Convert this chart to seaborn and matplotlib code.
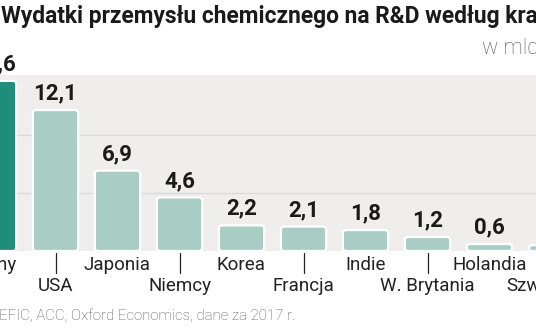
import matplotlib
matplotlib.use("Agg")
import matplotlib.pyplot as plt
import matplotlib.transforms as mtransforms
from matplotlib.patches import FancyBboxPatch
import seaborn as sns
import pandas as pd

countries = ["Chiny", "USA", "Japonia", "Niemcy", "Korea", "Francja", "Indie",
             "W. Brytania", "Holandia", "Szwajcaria"]
values = [14.6, 12.1, 6.9, 4.6, 2.2, 2.1, 1.8, 1.2, 0.6, 0.5]
value_labels = ["14,6", "12,1", "6,9", "4,6", "2,2", "2,1", "1,8", "1,2", "0,6", "0,5"]
title = "Wydatki przemysłu chemicznego na R&D według krajów"
subtitle = "w mld euro"
source = "Źródło: CEFIC, ACC, Oxford Economics, dane za 2017 r."

DARK = "#0e9f88"
LIGHT = "#a3d3c8"
BG = "#efeeec"
GRID = "#dadad8"

sns.set_theme(style="white")
plt.rcParams["font.family"] = ["Roboto", "DejaVu Sans"]

W, H, DPI = 536, 332, 100
fig = plt.figure(figsize=(W / DPI, H / DPI), dpi=DPI)
fig.patch.set_facecolor("white")

top_px, base_px = 75, 251
ax = fig.add_axes([0, (H - base_px) / H, 1, (base_px - top_px) / H])
ax.set_facecolor(BG)

df = pd.DataFrame({"kraj": countries, "wartosc": values})
palette = [DARK] + [LIGHT] * (len(countries) - 1)
sns.barplot(data=df, x="kraj", y="wartosc", hue="kraj", palette=palette,
            width=0.73, legend=False, ax=ax, zorder=3)

pitch = 62.0
x0 = -6.5
ax.set_xlim((0 - x0) / pitch, (W - x0) / pitch)
ppu = 11.65
ax.set_ylim(0, (base_px - top_px) / ppu)

# rounded bars
aspect = (1 / ppu) / (1 / pitch)
for p in list(ax.patches):
    x, y = p.get_x(), p.get_y()
    w, h = p.get_width(), p.get_height()
    fc = p.get_facecolor()
    p.remove()
    fb = FancyBboxPatch((x, y), w, h,
                        boxstyle="round,pad=0,rounding_size=0.05",
                        mutation_aspect=aspect, facecolor=fc,
                        edgecolor="white", linewidth=1.6, zorder=3)
    ax.add_patch(fb)

for gy in [5, 10]:
    ax.axhline(gy, color=GRID, lw=1.0, zorder=1)

for s in ax.spines.values():
    s.set_visible(False)
ax.set_xticks([])
ax.set_yticks([])
ax.set_xlabel("")
ax.set_ylabel("")

# value labels
for i, (v, lab) in enumerate(zip(values, value_labels)):
    ax.annotate(lab, (i, v), xytext=(0, 4), textcoords="offset points",
                ha="center", va="bottom", fontsize=16, fontweight="bold",
                color="#1a1a1a", annotation_clip=False)

# category labels (alternating rows)
trans = mtransforms.blended_transform_factory(ax.transData, ax.transAxes)
axh = base_px - top_px
for i, c in enumerate(countries):
    if i % 2 == 0:
        ax.text(i, -14 / axh, c, transform=trans, ha="center", va="center",
                fontsize=13.5, color="#222222", clip_on=False)
    else:
        ax.plot([i, i], [-2 / axh, -22 / axh], transform=trans, color="#222222",
                lw=0.9, clip_on=False)
        ax.text(i, -35 / axh, c, transform=trans, ha="center", va="center",
                fontsize=13.5, color="#222222", clip_on=False)

# title, subtitle, source
fig.text(1 / W, 1 - 17 / H, title, ha="left", va="center", fontsize=16.4,
         fontweight="bold", color="#1a1a1a")
fig.text(482 / W, 1 - 49 / H, subtitle, ha="left", va="center", fontsize=15.5,
         fontweight="light", color="#555555")
fig.text(295 / W, 1 - 315 / H, source, ha="right", va="center", fontsize=10.8,
         fontweight="light", color="#555555")

fig.savefig("out.png", dpi=DPI)
